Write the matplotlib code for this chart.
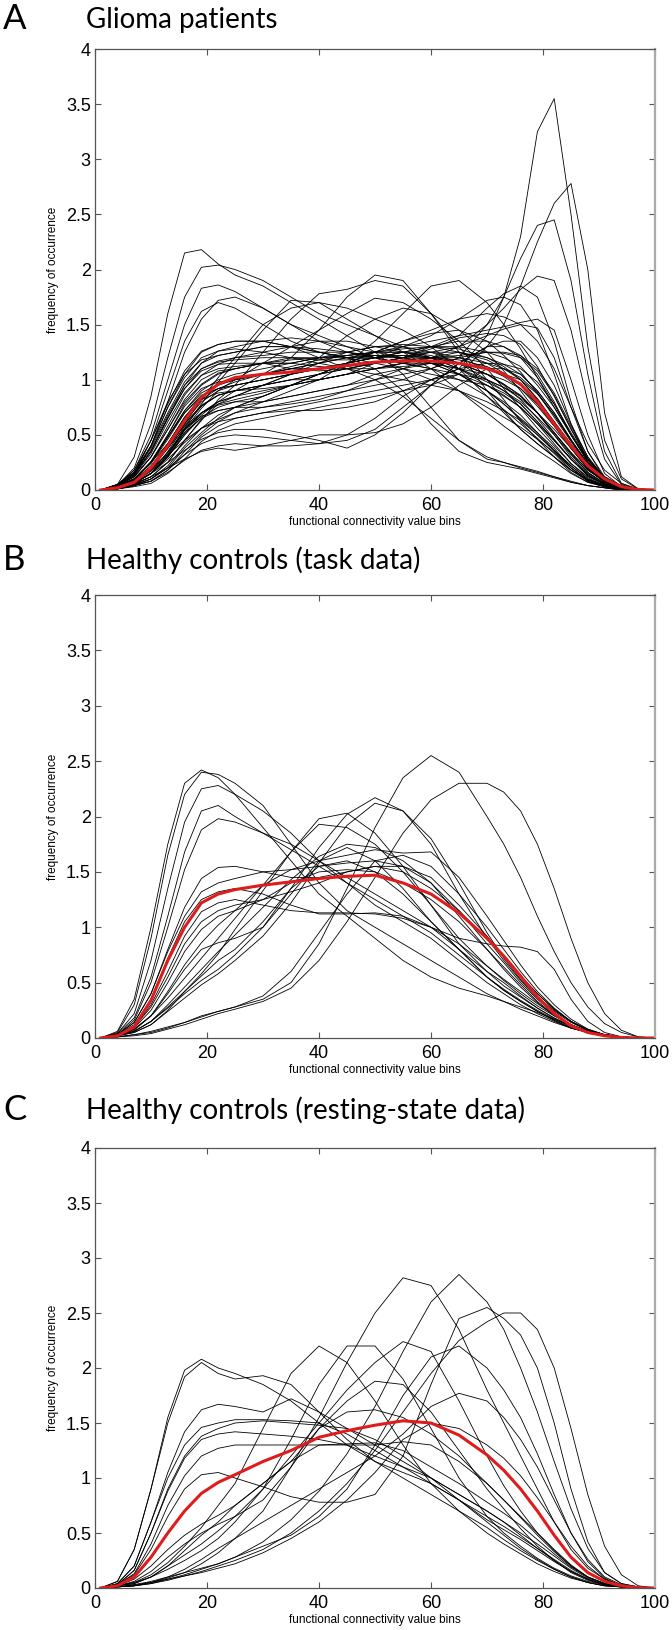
import numpy as np
import matplotlib
matplotlib.use('Agg')
import matplotlib.pyplot as plt

bins = [1, 4, 7, 10, 13, 16, 19, 22, 25,
        30, 35, 40, 45, 50, 55, 60, 65, 70,
        73, 76, 79, 82, 85, 88, 91, 94, 97, 100]

# ---------------- A: glioma patients ----------------
glioma_mean = [0, 0.02, 0.07, 0.2, 0.4, 0.63, 0.84, 0.96, 1.02,
               1.05, 1.07, 1.10, 1.13, 1.16, 1.17, 1.17, 1.15, 1.10,
               1.05, 0.96, 0.8, 0.6, 0.4, 0.22, 0.1, 0.03, 0.005, 0]
glioma_curves = [
    [0, 0.01, 0.04, 0.08, 0.18, 0.32, 0.48, 0.58, 0.65, 0.7, 0.75, 0.8, 0.85, 0.9, 0.95, 1.0, 1.1, 1.4, 1.75, 2.3, 3.25, 3.55, 2.5, 1.3, 0.45, 0.1, 0.01, 0],
    [0, 0.01, 0.03, 0.06, 0.15, 0.28, 0.44, 0.54, 0.6, 0.65, 0.7, 0.75, 0.8, 0.85, 0.9, 0.95, 1.05, 1.3, 1.5, 1.85, 2.25, 2.6, 2.78, 2.0, 0.7, 0.12, 0.01, 0],
    [0, 0.02, 0.05, 0.1, 0.2, 0.38, 0.52, 0.65, 0.75, 0.8, 0.85, 0.9, 0.95, 1.0, 1.05, 1.1, 1.2, 1.5, 1.75, 2.1, 2.4, 2.45, 1.9, 1.05, 0.35, 0.06, 0, 0],
    [0, 0.02, 0.06, 0.15, 0.35, 0.58, 0.76, 0.86, 0.9, 0.95, 1.0, 1.0, 1.05, 1.1, 1.15, 1.2, 1.3, 1.5, 1.65, 1.82, 1.94, 1.9, 1.45, 0.8, 0.28, 0.05, 0, 0],
    [0, 0.02, 0.06, 0.15, 0.3, 0.52, 0.7, 0.8, 0.85, 0.9, 0.95, 1.0, 1.05, 1.15, 1.2, 1.3, 1.4, 1.65, 1.78, 1.85, 1.75, 1.35, 0.8, 0.35, 0.1, 0.02, 0, 0],
    [0, 0.03, 0.09, 0.2, 0.42, 0.66, 0.85, 0.95, 1.0, 1.05, 1.1, 1.1, 1.15, 1.2, 1.3, 1.4, 1.55, 1.72, 1.75, 1.68, 1.45, 1.05, 0.6, 0.25, 0.07, 0.01, 0, 0],
    [0, 0.03, 0.1, 0.25, 0.5, 0.78, 0.95, 1.05, 1.1, 1.15, 1.15, 1.2, 1.2, 1.25, 1.3, 1.35, 1.4, 1.45, 1.48, 1.52, 1.55, 1.45, 1.0, 0.5, 0.15, 0.03, 0, 0],
    [0, 0.05, 0.3, 0.85, 1.6, 2.15, 2.18, 2.05, 1.95, 1.85, 1.7, 1.55, 1.4, 1.25, 1.05, 0.75, 0.45, 0.28, 0.25, 0.21, 0.17, 0.12, 0.07, 0.04, 0.02, 0, 0, 0],
    [0, 0.04, 0.2, 0.6, 1.2, 1.75, 2.02, 2.04, 2.0, 1.9, 1.75, 1.6, 1.5, 1.4, 1.3, 1.2, 1.05, 0.9, 0.78, 0.65, 0.52, 0.38, 0.2, 0.08, 0.03, 0.01, 0, 0],
    [0, 0.04, 0.18, 0.5, 1.0, 1.5, 1.83, 1.86, 1.8, 1.65, 1.5, 1.4, 1.3, 1.2, 1.1, 1.0, 0.9, 0.75, 0.66, 0.57, 0.46, 0.34, 0.2, 0.09, 0.03, 0.01, 0, 0],
    [0, 0.03, 0.14, 0.4, 0.8, 1.25, 1.55, 1.72, 1.75, 1.65, 1.5, 1.35, 1.25, 1.2, 1.15, 1.1, 1.0, 0.85, 0.73, 0.6, 0.47, 0.33, 0.18, 0.08, 0.03, 0.01, 0, 0],
    [0, 0.03, 0.15, 0.45, 0.9, 1.35, 1.62, 1.7, 1.65, 1.5, 1.35, 1.25, 1.2, 1.2, 1.2, 1.15, 1.05, 0.9, 0.78, 0.64, 0.5, 0.35, 0.2, 0.09, 0.03, 0.01, 0, 0],
    [0, 0.02, 0.06, 0.15, 0.3, 0.5, 0.68, 0.8, 0.9, 1.05, 1.2, 1.45, 1.75, 1.95, 1.9, 1.6, 1.25, 0.9, 0.72, 0.55, 0.42, 0.3, 0.18, 0.09, 0.04, 0.01, 0, 0],
    [0, 0.02, 0.05, 0.12, 0.25, 0.45, 0.63, 0.82, 0.95, 1.25, 1.55, 1.78, 1.82, 1.9, 1.85, 1.6, 1.3, 1.0, 0.82, 0.62, 0.46, 0.3, 0.16, 0.07, 0.03, 0.01, 0, 0],
    [0, 0.01, 0.04, 0.08, 0.18, 0.35, 0.5, 0.62, 0.7, 0.8, 0.9, 1.0, 1.15, 1.35, 1.6, 1.85, 1.9, 1.7, 1.5, 1.28, 1.02, 0.75, 0.5, 0.28, 0.12, 0.04, 0.01, 0],
    [0, 0.02, 0.06, 0.15, 0.32, 0.56, 0.78, 0.98, 1.15, 1.45, 1.72, 1.7, 1.55, 1.4, 1.25, 1.1, 0.9, 0.7, 0.58, 0.47, 0.36, 0.26, 0.15, 0.07, 0.03, 0.01, 0, 0],
    [0, 0.03, 0.08, 0.2, 0.38, 0.6, 0.82, 1.02, 1.2, 1.5, 1.65, 1.7, 1.65, 1.55, 1.45, 1.3, 1.1, 0.85, 0.7, 0.55, 0.42, 0.3, 0.18, 0.09, 0.04, 0.01, 0, 0],
    [0, 0.02, 0.06, 0.15, 0.3, 0.55, 0.74, 0.9, 1.0, 1.15, 1.3, 1.45, 1.6, 1.74, 1.7, 1.55, 1.35, 1.1, 0.92, 0.74, 0.56, 0.4, 0.24, 0.12, 0.05, 0.01, 0, 0],
    [0, 0.02, 0.05, 0.12, 0.25, 0.45, 0.64, 0.78, 0.85, 0.95, 1.05, 1.2, 1.4, 1.55, 1.65, 1.6, 1.45, 1.25, 1.08, 0.9, 0.7, 0.5, 0.3, 0.15, 0.06, 0.02, 0, 0],
    [0, 0.01, 0.04, 0.1, 0.22, 0.4, 0.56, 0.68, 0.75, 0.85, 0.95, 1.05, 1.15, 1.25, 1.35, 1.45, 1.55, 1.6, 1.57, 1.5, 1.35, 1.1, 0.75, 0.42, 0.18, 0.06, 0.01, 0],
    [0, 0.01, 0.04, 0.08, 0.16, 0.27, 0.36, 0.4, 0.42, 0.4, 0.4, 0.42, 0.5, 0.65, 0.85, 1.0, 1.05, 1.0, 0.93, 0.83, 0.7, 0.55, 0.38, 0.22, 0.1, 0.03, 0.01, 0],
    [0, 0.02, 0.06, 0.12, 0.2, 0.28, 0.35, 0.38, 0.36, 0.4, 0.45, 0.5, 0.5, 0.52, 0.6, 0.75, 0.95, 1.1, 1.1, 1.05, 0.9, 0.7, 0.45, 0.22, 0.08, 0.02, 0, 0],
    [0, 0.01, 0.04, 0.1, 0.2, 0.32, 0.42, 0.48, 0.5, 0.48, 0.45, 0.42, 0.45, 0.55, 0.75, 0.95, 1.15, 1.3, 1.35, 1.35, 1.2, 0.95, 0.6, 0.3, 0.1, 0.02, 0, 0],
    [0, 0.02, 0.07, 0.15, 0.25, 0.36, 0.46, 0.52, 0.55, 0.55, 0.5, 0.45, 0.38, 0.5, 0.7, 0.95, 1.15, 1.3, 1.3, 1.22, 1.05, 0.8, 0.5, 0.25, 0.09, 0.02, 0, 0],
    [0, 0.02, 0.07, 0.15, 0.28, 0.43, 0.56, 0.62, 0.65, 0.7, 0.72, 0.72, 0.75, 0.8, 0.9, 1.0, 1.1, 1.15, 1.14, 1.1, 0.98, 0.78, 0.52, 0.28, 0.1, 0.03, 0, 0],
    [0, 0.03, 0.09, 0.2, 0.32, 0.45, 0.56, 0.64, 0.7, 0.75, 0.8, 0.85, 0.9, 0.95, 1.0, 1.1, 1.2, 1.25, 1.24, 1.2, 1.08, 0.86, 0.56, 0.28, 0.1, 0.03, 0, 0],
    [0, 0.02, 0.08, 0.18, 0.34, 0.52, 0.65, 0.72, 0.75, 0.75, 0.78, 0.82, 0.9, 1.0, 1.1, 1.2, 1.25, 1.2, 1.14, 1.05, 0.9, 0.7, 0.46, 0.24, 0.09, 0.02, 0, 0],
    [0, 0.03, 0.1, 0.25, 0.42, 0.58, 0.7, 0.77, 0.8, 0.8, 0.85, 0.9, 0.95, 1.05, 1.1, 1.15, 1.15, 1.1, 1.05, 1.0, 0.87, 0.68, 0.45, 0.24, 0.09, 0.02, 0, 0],
    [0, 0.04, 0.14, 0.35, 0.65, 0.92, 1.1, 1.17, 1.2, 1.22, 1.25, 1.25, 1.25, 1.22, 1.2, 1.15, 1.1, 1.0, 0.93, 0.85, 0.7, 0.52, 0.34, 0.18, 0.08, 0.02, 0, 0],
    [0, 0.05, 0.16, 0.4, 0.7, 0.98, 1.15, 1.22, 1.25, 1.3, 1.3, 1.28, 1.25, 1.2, 1.15, 1.1, 1.05, 0.95, 0.86, 0.75, 0.6, 0.45, 0.28, 0.14, 0.05, 0.01, 0, 0],
    [0, 0.03, 0.12, 0.3, 0.55, 0.82, 1.0, 1.08, 1.1, 1.15, 1.2, 1.2, 1.22, 1.25, 1.25, 1.22, 1.15, 1.05, 0.96, 0.85, 0.7, 0.52, 0.34, 0.18, 0.08, 0.02, 0, 0],
    [0, 0.04, 0.12, 0.3, 0.58, 0.86, 1.04, 1.14, 1.2, 1.25, 1.3, 1.35, 1.35, 1.3, 1.25, 1.2, 1.1, 0.95, 0.85, 0.75, 0.6, 0.42, 0.24, 0.11, 0.04, 0.01, 0, 0],
    [0, 0.03, 0.1, 0.25, 0.48, 0.72, 0.9, 1.0, 1.05, 1.1, 1.15, 1.2, 1.25, 1.3, 1.32, 1.3, 1.25, 1.15, 1.06, 0.95, 0.78, 0.58, 0.38, 0.2, 0.08, 0.02, 0, 0],
    [0, 0.02, 0.08, 0.2, 0.4, 0.62, 0.8, 0.9, 0.95, 1.0, 1.05, 1.1, 1.15, 1.2, 1.25, 1.3, 1.35, 1.35, 1.3, 1.2, 1.02, 0.78, 0.5, 0.26, 0.1, 0.02, 0, 0],
    [0, 0.03, 0.1, 0.25, 0.48, 0.7, 0.85, 0.92, 0.95, 1.0, 1.05, 1.1, 1.15, 1.2, 1.25, 1.25, 1.2, 1.1, 1.04, 0.95, 0.8, 0.62, 0.42, 0.23, 0.09, 0.02, 0, 0],
    [0, 0.05, 0.18, 0.45, 0.78, 1.08, 1.26, 1.32, 1.35, 1.35, 1.3, 1.25, 1.2, 1.15, 1.1, 1.05, 1.0, 0.95, 0.88, 0.78, 0.62, 0.45, 0.28, 0.14, 0.05, 0.01, 0, 0],
    [0, 0.04, 0.14, 0.35, 0.65, 0.95, 1.15, 1.26, 1.3, 1.35, 1.38, 1.35, 1.3, 1.25, 1.2, 1.2, 1.15, 1.05, 0.95, 0.82, 0.65, 0.46, 0.28, 0.13, 0.05, 0.01, 0, 0],
    [0, 0.02, 0.08, 0.18, 0.38, 0.6, 0.76, 0.86, 0.9, 0.95, 1.0, 1.05, 1.1, 1.15, 1.2, 1.28, 1.38, 1.42, 1.4, 1.32, 1.12, 0.85, 0.55, 0.28, 0.1, 0.02, 0, 0],
    [0, 0.03, 0.1, 0.2, 0.42, 0.66, 0.82, 0.88, 0.9, 0.92, 0.95, 1.0, 1.05, 1.1, 1.15, 1.15, 1.1, 1.05, 1.0, 0.92, 0.78, 0.6, 0.4, 0.2, 0.08, 0.02, 0, 0],
    [0, 0.04, 0.12, 0.3, 0.55, 0.8, 0.96, 1.06, 1.1, 1.15, 1.15, 1.12, 1.1, 1.1, 1.12, 1.15, 1.15, 1.1, 1.03, 0.92, 0.76, 0.58, 0.38, 0.2, 0.08, 0.02, 0, 0],
    [0, 0.05, 0.16, 0.4, 0.75, 1.02, 1.2, 1.26, 1.28, 1.25, 1.2, 1.15, 1.1, 1.05, 1.0, 0.95, 0.9, 0.8, 0.72, 0.63, 0.5, 0.36, 0.22, 0.1, 0.04, 0.01, 0, 0],
    [0, 0.03, 0.1, 0.25, 0.48, 0.72, 0.88, 0.96, 1.0, 1.05, 1.1, 1.15, 1.2, 1.22, 1.2, 1.15, 1.05, 0.9, 0.8, 0.68, 0.52, 0.36, 0.22, 0.1, 0.04, 0.01, 0, 0],
    [0, 0.02, 0.06, 0.15, 0.32, 0.54, 0.7, 0.8, 0.85, 0.95, 1.05, 1.15, 1.25, 1.3, 1.3, 1.25, 1.15, 1.0, 0.9, 0.78, 0.62, 0.45, 0.28, 0.13, 0.05, 0.01, 0, 0],
    [0, 0.02, 0.08, 0.2, 0.38, 0.56, 0.67, 0.72, 0.75, 0.85, 0.95, 1.05, 1.15, 1.2, 1.25, 1.3, 1.3, 1.25, 1.2, 1.12, 0.95, 0.75, 0.5, 0.26, 0.1, 0.02, 0, 0],
    [0, 0.03, 0.08, 0.2, 0.38, 0.6, 0.77, 0.86, 0.9, 0.95, 1.0, 1.05, 1.1, 1.15, 1.2, 1.25, 1.3, 1.4, 1.46, 1.5, 1.47, 1.2, 0.75, 0.35, 0.12, 0.03, 0, 0],
    [0, 0.02, 0.06, 0.15, 0.3, 0.5, 0.66, 0.75, 0.8, 0.85, 0.95, 1.05, 1.15, 1.25, 1.35, 1.42, 1.45, 1.35, 1.22, 1.07, 0.88, 0.66, 0.44, 0.24, 0.1, 0.03, 0, 0],
    [0, 0.05, 0.16, 0.45, 0.8, 1.05, 1.18, 1.22, 1.25, 1.3, 1.3, 1.25, 1.2, 1.1, 0.9, 0.6, 0.35, 0.25, 0.22, 0.19, 0.15, 0.11, 0.07, 0.04, 0.02, 0, 0, 0],
    [0, 0.04, 0.14, 0.4, 0.75, 1.05, 1.25, 1.32, 1.35, 1.35, 1.3, 1.2, 1.1, 1.0, 0.85, 0.65, 0.45, 0.3, 0.25, 0.2, 0.16, 0.12, 0.08, 0.04, 0.02, 0, 0, 0],
    [0, 0.04, 0.13, 0.33, 0.62, 0.88, 1.04, 1.1, 1.12, 1.15, 1.18, 1.2, 1.22, 1.25, 1.25, 1.2, 1.1, 0.98, 0.9, 0.8, 0.66, 0.5, 0.32, 0.16, 0.06, 0.01, 0, 0],
    [0, 0.03, 0.1, 0.26, 0.5, 0.76, 0.92, 0.98, 1.0, 1.05, 1.1, 1.15, 1.2, 1.22, 1.22, 1.2, 1.18, 1.12, 1.05, 0.96, 0.8, 0.6, 0.38, 0.19, 0.07, 0.02, 0, 0],
    [0, 0.04, 0.15, 0.38, 0.68, 0.95, 1.1, 1.16, 1.18, 1.2, 1.2, 1.18, 1.18, 1.2, 1.22, 1.2, 1.15, 1.05, 0.96, 0.86, 0.7, 0.52, 0.33, 0.16, 0.06, 0.01, 0, 0],
    [0, 0.03, 0.09, 0.22, 0.42, 0.65, 0.82, 0.92, 0.98, 1.05, 1.12, 1.18, 1.22, 1.25, 1.28, 1.3, 1.28, 1.2, 1.12, 1.0, 0.82, 0.6, 0.38, 0.19, 0.07, 0.02, 0, 0],
    [0, 0.02, 0.07, 0.17, 0.34, 0.55, 0.7, 0.78, 0.82, 0.88, 0.95, 1.0, 1.05, 1.1, 1.15, 1.2, 1.2, 1.15, 1.1, 1.02, 0.88, 0.68, 0.45, 0.23, 0.08, 0.02, 0, 0],
    [0, 0.04, 0.14, 0.36, 0.66, 0.92, 1.08, 1.14, 1.15, 1.15, 1.1, 1.08, 1.1, 1.15, 1.2, 1.25, 1.25, 1.18, 1.1, 1.0, 0.83, 0.62, 0.4, 0.2, 0.07, 0.02, 0, 0],
    [0, 0.03, 0.1, 0.24, 0.46, 0.7, 0.86, 0.92, 0.95, 1.0, 1.05, 1.1, 1.12, 1.15, 1.18, 1.2, 1.22, 1.25, 1.25, 1.22, 1.1, 0.88, 0.58, 0.3, 0.11, 0.03, 0, 0],
]

# ---------------- B: healthy controls, task ----------------
task_mean = [0, 0.02, 0.1, 0.34, 0.7, 1.0, 1.22, 1.3, 1.34,
             1.38, 1.41, 1.44, 1.46, 1.47, 1.40, 1.30, 1.13, 0.90,
             0.74, 0.56, 0.37, 0.22, 0.11, 0.05, 0.02, 0.005, 0, 0]
task_curves = [
    [0, 0.06, 0.35, 1.0, 1.75, 2.3, 2.42, 2.35, 2.2, 1.9, 1.6, 1.3, 1.1, 0.9, 0.7, 0.55, 0.45, 0.38, 0.33, 0.28, 0.23, 0.17, 0.11, 0.06, 0.03, 0.01, 0, 0],
    [0, 0.05, 0.3, 0.9, 1.65, 2.2, 2.4, 2.38, 2.3, 2.1, 1.75, 1.4, 1.15, 1.0, 0.85, 0.7, 0.55, 0.4, 0.33, 0.26, 0.2, 0.14, 0.09, 0.05, 0.02, 0.01, 0, 0],
    [0, 0.04, 0.22, 0.7, 1.35, 1.95, 2.25, 2.28, 2.2, 2.05, 1.85, 1.6, 1.4, 1.2, 1.05, 0.9, 0.7, 0.5, 0.4, 0.3, 0.22, 0.15, 0.09, 0.05, 0.02, 0.01, 0, 0],
    [0, 0.04, 0.18, 0.55, 1.1, 1.68, 2.05, 2.1, 2.0, 1.85, 1.7, 1.55, 1.4, 1.25, 1.1, 0.95, 0.75, 0.55, 0.44, 0.34, 0.25, 0.17, 0.1, 0.05, 0.02, 0.01, 0, 0],
    [0, 0.03, 0.16, 0.5, 1.0, 1.52, 1.88, 1.98, 1.95, 1.85, 1.75, 1.6, 1.45, 1.3, 1.15, 1.0, 0.8, 0.6, 0.5, 0.38, 0.27, 0.18, 0.11, 0.06, 0.03, 0.01, 0, 0],
    [0, 0.01, 0.03, 0.05, 0.09, 0.14, 0.2, 0.24, 0.28, 0.35, 0.5, 0.85, 1.35, 1.9, 2.35, 2.55, 2.4, 2.0, 1.75, 1.45, 1.1, 0.78, 0.5, 0.28, 0.13, 0.05, 0.01, 0],
    [0, 0.01, 0.02, 0.04, 0.08, 0.12, 0.17, 0.22, 0.26, 0.33, 0.45, 0.7, 1.05, 1.45, 1.85, 2.15, 2.3, 2.3, 2.22, 2.05, 1.75, 1.35, 0.9, 0.5, 0.22, 0.07, 0.01, 0],
    [0, 0.02, 0.06, 0.15, 0.27, 0.4, 0.52, 0.62, 0.75, 1.0, 1.35, 1.72, 2.02, 2.17, 2.05, 1.75, 1.3, 0.9, 0.7, 0.52, 0.36, 0.24, 0.14, 0.07, 0.03, 0.01, 0, 0],
    [0, 0.02, 0.05, 0.12, 0.24, 0.36, 0.48, 0.58, 0.7, 0.92, 1.22, 1.58, 1.92, 2.12, 2.05, 1.8, 1.4, 0.95, 0.72, 0.53, 0.37, 0.25, 0.15, 0.08, 0.03, 0.01, 0, 0],
    [0, 0.02, 0.06, 0.15, 0.28, 0.42, 0.58, 0.76, 0.98, 1.33, 1.68, 1.98, 2.03, 1.85, 1.55, 1.2, 0.85, 0.6, 0.47, 0.37, 0.27, 0.18, 0.11, 0.06, 0.03, 0.01, 0, 0],
    [0, 0.02, 0.08, 0.2, 0.36, 0.54, 0.72, 0.9, 1.08, 1.38, 1.68, 1.93, 1.9, 1.75, 1.5, 1.2, 0.9, 0.65, 0.52, 0.4, 0.29, 0.2, 0.12, 0.06, 0.03, 0.01, 0, 0],
    [0, 0.02, 0.06, 0.15, 0.3, 0.46, 0.62, 0.78, 0.93, 1.18, 1.43, 1.64, 1.75, 1.72, 1.6, 1.4, 1.1, 0.8, 0.62, 0.46, 0.32, 0.2, 0.12, 0.06, 0.03, 0.01, 0, 0],
    [0, 0.02, 0.08, 0.2, 0.42, 0.66, 0.86, 1.02, 1.15, 1.38, 1.52, 1.6, 1.65, 1.7, 1.67, 1.68, 1.45, 1.1, 0.88, 0.66, 0.46, 0.3, 0.17, 0.08, 0.03, 0.01, 0, 0],
    [0, 0.03, 0.14, 0.4, 0.8, 1.18, 1.44, 1.54, 1.55, 1.5, 1.45, 1.45, 1.5, 1.55, 1.5, 1.35, 1.15, 0.9, 0.74, 0.56, 0.4, 0.26, 0.15, 0.07, 0.03, 0.01, 0, 0],
    [0, 0.03, 0.14, 0.4, 0.78, 1.1, 1.32, 1.4, 1.44, 1.5, 1.52, 1.55, 1.58, 1.6, 1.55, 1.4, 1.15, 0.85, 0.68, 0.5, 0.35, 0.22, 0.12, 0.06, 0.02, 0.01, 0, 0],
    [0, 0.03, 0.1, 0.3, 0.6, 0.92, 1.14, 1.22, 1.25, 1.2, 1.15, 1.13, 1.13, 1.12, 1.08, 1.0, 0.9, 0.85, 0.83, 0.82, 0.78, 0.62, 0.35, 0.15, 0.05, 0.01, 0, 0],
    [0, 0.03, 0.09, 0.25, 0.5, 0.78, 0.98, 1.1, 1.15, 1.25, 1.4, 1.5, 1.52, 1.5, 1.4, 1.25, 1.05, 0.8, 0.64, 0.48, 0.33, 0.21, 0.12, 0.06, 0.02, 0.01, 0, 0],
    [0, 0.02, 0.07, 0.2, 0.4, 0.62, 0.8, 0.86, 0.9, 1.0, 1.3, 1.6, 1.72, 1.6, 1.35, 1.05, 0.8, 0.55, 0.43, 0.33, 0.24, 0.16, 0.09, 0.05, 0.02, 0.01, 0, 0],
    [0, 0.02, 0.05, 0.12, 0.25, 0.42, 0.56, 0.7, 0.8, 1.05, 1.35, 1.55, 1.6, 1.5, 1.3, 1.05, 0.8, 0.55, 0.43, 0.33, 0.24, 0.16, 0.09, 0.05, 0.02, 0.01, 0, 0],
    [0, 0.01, 0.03, 0.06, 0.1, 0.14, 0.19, 0.24, 0.28, 0.38, 0.6, 0.95, 1.3, 1.6, 1.65, 1.55, 1.3, 1.0, 0.8, 0.6, 0.42, 0.27, 0.15, 0.07, 0.03, 0.01, 0, 0],
    [0, 0.03, 0.12, 0.35, 0.72, 1.05, 1.25, 1.32, 1.35, 1.3, 1.2, 1.12, 1.12, 1.13, 1.1, 1.0, 0.85, 0.65, 0.53, 0.42, 0.31, 0.21, 0.12, 0.06, 0.02, 0.01, 0, 0],
    [0, 0.02, 0.1, 0.28, 0.55, 0.85, 1.05, 1.15, 1.2, 1.25, 1.32, 1.4, 1.5, 1.55, 1.55, 1.45, 1.2, 0.92, 0.74, 0.56, 0.4, 0.26, 0.15, 0.07, 0.03, 0.01, 0, 0],
]

# ---------------- C: healthy controls, resting state ----------------
rest_mean = [0, 0.02, 0.1, 0.28, 0.5, 0.7, 0.86, 0.96, 1.03,
             1.15, 1.25, 1.37, 1.43, 1.48, 1.52, 1.50, 1.39, 1.21,
             1.07, 0.9, 0.7, 0.48, 0.28, 0.14, 0.06, 0.02, 0.003, 0]
rest_curves = [
    [0, 0.01, 0.03, 0.05, 0.09, 0.14, 0.22, 0.32, 0.45, 0.7, 1.1, 1.55, 2.05, 2.5, 2.82, 2.75, 2.35, 1.8, 1.5, 1.2, 0.9, 0.6, 0.35, 0.18, 0.08, 0.02, 0, 0],
    [0, 0.01, 0.02, 0.05, 0.08, 0.12, 0.17, 0.22, 0.28, 0.42, 0.62, 0.88, 1.22, 1.65, 2.15, 2.6, 2.85, 2.6, 2.35, 2.0, 1.6, 1.15, 0.72, 0.36, 0.14, 0.04, 0.01, 0],
    [0, 0.03, 0.12, 0.35, 0.65, 0.9, 1.03, 1.05, 1.0, 0.92, 0.83, 0.78, 0.78, 0.85, 1.2, 1.85, 2.45, 2.55, 2.45, 2.3, 2.0, 1.5, 0.9, 0.42, 0.14, 0.04, 0.01, 0],
    [0, 0.01, 0.02, 0.04, 0.07, 0.11, 0.15, 0.2, 0.25, 0.35, 0.5, 0.7, 0.95, 1.25, 1.6, 1.95, 2.25, 2.42, 2.5, 2.5, 2.35, 2.0, 1.45, 0.85, 0.38, 0.12, 0.02, 0],
    [0, 0.02, 0.04, 0.1, 0.17, 0.25, 0.34, 0.45, 0.6, 0.9, 1.35, 1.85, 2.2, 2.2, 1.9, 1.45, 1.0, 0.65, 0.5, 0.38, 0.27, 0.18, 0.11, 0.06, 0.03, 0.01, 0, 0],
    [0, 0.02, 0.05, 0.12, 0.23, 0.38, 0.55, 0.75, 0.95, 1.45, 1.95, 2.2, 2.05, 1.7, 1.3, 0.95, 0.7, 0.5, 0.4, 0.31, 0.22, 0.15, 0.09, 0.05, 0.02, 0.01, 0, 0],
    [0, 0.02, 0.04, 0.1, 0.2, 0.3, 0.4, 0.52, 0.65, 0.9, 1.2, 1.5, 1.8, 2.05, 2.24, 2.15, 1.7, 1.2, 0.93, 0.7, 0.5, 0.34, 0.2, 0.1, 0.04, 0.01, 0, 0],
    [0, 0.06, 0.35, 0.9, 1.55, 1.98, 2.08, 2.0, 1.95, 1.85, 1.7, 1.5, 1.3, 1.15, 1.05, 0.95, 0.8, 0.6, 0.48, 0.36, 0.26, 0.17, 0.1, 0.05, 0.02, 0.01, 0, 0],
    [0, 0.06, 0.35, 0.9, 1.5, 1.92, 2.05, 1.95, 1.9, 1.93, 1.85, 1.6, 1.35, 1.15, 1.0, 0.85, 0.7, 0.55, 0.44, 0.34, 0.25, 0.17, 0.1, 0.05, 0.02, 0.01, 0, 0],
    [0, 0.02, 0.05, 0.1, 0.2, 0.34, 0.48, 0.6, 0.75, 0.95, 1.15, 1.45, 1.7, 1.88, 1.85, 1.6, 1.25, 0.9, 0.72, 0.54, 0.38, 0.25, 0.14, 0.07, 0.03, 0.01, 0, 0],
    [0, 0.01, 0.02, 0.05, 0.1, 0.17, 0.26, 0.36, 0.45, 0.6, 0.75, 0.9, 1.05, 1.2, 1.4, 1.65, 1.77, 1.7, 1.55, 1.35, 1.1, 0.8, 0.5, 0.26, 0.1, 0.03, 0, 0],
    [0, 0.04, 0.2, 0.6, 1.05, 1.42, 1.62, 1.67, 1.65, 1.6, 1.72, 1.6, 1.45, 1.3, 1.15, 1.0, 0.85, 0.7, 0.6, 0.5, 0.4, 0.29, 0.18, 0.09, 0.04, 0.01, 0, 0],
    [0, 0.04, 0.2, 0.6, 1.0, 1.3, 1.46, 1.5, 1.53, 1.53, 1.52, 1.5, 1.4, 1.25, 1.1, 0.95, 0.8, 0.65, 0.56, 0.46, 0.36, 0.26, 0.16, 0.08, 0.03, 0.01, 0, 0],
    [0, 0.03, 0.16, 0.5, 0.9, 1.2, 1.38, 1.45, 1.5, 1.52, 1.5, 1.48, 1.45, 1.35, 1.2, 1.0, 0.8, 0.62, 0.53, 0.44, 0.34, 0.24, 0.15, 0.08, 0.03, 0.01, 0, 0],
    [0, 0.03, 0.16, 0.5, 0.88, 1.18, 1.35, 1.4, 1.42, 1.4, 1.38, 1.35, 1.3, 1.2, 1.1, 1.0, 0.85, 0.7, 0.6, 0.48, 0.36, 0.25, 0.15, 0.08, 0.03, 0.01, 0, 0],
    [0, 0.03, 0.13, 0.4, 0.75, 1.02, 1.2, 1.27, 1.3, 1.3, 1.3, 1.3, 1.31, 1.32, 1.25, 1.1, 0.95, 0.78, 0.68, 0.57, 0.44, 0.31, 0.19, 0.1, 0.04, 0.01, 0, 0],
    [0, 0.01, 0.03, 0.06, 0.1, 0.14, 0.18, 0.22, 0.28, 0.38, 0.48, 0.65, 0.9, 1.3, 1.75, 2.1, 2.2, 2.0, 1.8, 1.55, 1.22, 0.85, 0.5, 0.24, 0.09, 0.02, 0, 0],
    [0, 0.02, 0.06, 0.15, 0.28, 0.4, 0.5, 0.58, 0.65, 0.8, 1.1, 1.45, 1.6, 1.62, 1.55, 1.4, 1.2, 0.95, 0.8, 0.65, 0.5, 0.35, 0.21, 0.1, 0.04, 0.01, 0, 0],
    [0, 0.01, 0.02, 0.04, 0.08, 0.11, 0.14, 0.18, 0.22, 0.32, 0.45, 0.6, 0.8, 1.05, 1.35, 1.5, 1.45, 1.3, 1.18, 1.02, 0.82, 0.6, 0.38, 0.2, 0.08, 0.02, 0, 0],
    [0, 0.02, 0.08, 0.2, 0.35, 0.48, 0.58, 0.66, 0.75, 0.95, 1.15, 1.3, 1.3, 1.3, 1.33, 1.3, 1.15, 0.95, 0.8, 0.64, 0.48, 0.33, 0.2, 0.1, 0.04, 0.01, 0, 0],
]

panel_letters = ['A', 'B', 'C']
panel_titles = ['Glioma patients', 'Healthy controls (task data)',
                'Healthy controls (resting-state data)']
panel_means = [glioma_mean, task_mean, rest_mean]
panel_curves = [glioma_curves, task_curves, rest_curves]

x_ticks = [0, 20, 40, 60, 80, 100]
y_ticks = [0, 0.5, 1, 1.5, 2, 2.5, 3, 3.5, 4]
y_tick_labels = ['0', '0.5', '1', '1.5', '2', '2.5', '3', '3.5', '4']

W, H = 672, 1630
fig = plt.figure(figsize=(W / 100, H / 100), dpi=100)

# pixel boxes (top, bottom) of each axes, and title baselines
ax_rows = [(49, 490), (595, 1038), (1148, 1588)]
title_base = [28, 569, 1119]
ax_left, ax_right = 95, 655

tick_font = ['Liberation Sans', 'DejaVu Sans']
title_font = ['Lato', 'DejaVu Sans']

for i in range(3):
    top, bot = ax_rows[i]
    ax = fig.add_axes([ax_left / W, 1 - bot / H, (ax_right - ax_left) / W, (bot - top) / H])

    for c in panel_curves[i]:
        ax.plot(bins, c, color='black', lw=0.6, solid_joinstyle='round')
    ax.plot(bins, panel_means[i], color='#e01b1b', lw=2.2, solid_joinstyle='round')

    ax.set_xlim(0, 100)
    ax.set_ylim(0, 4)
    ax.set_xticks(x_ticks)
    ax.set_xticklabels([str(t) for t in x_ticks])
    ax.set_yticks(y_ticks)
    ax.set_yticklabels(y_tick_labels)
    ax.tick_params(direction='in', top=True, right=True, length=4, width=0.8,
                   color='#555555', labelsize=13)
    ax.tick_params(axis='x', pad=5)
    ax.tick_params(axis='y', pad=3)
    for lab in ax.get_xticklabels() + ax.get_yticklabels():
        lab.set_family(tick_font)
    for s in ['left', 'bottom', 'top']:
        ax.spines[s].set_color('#555555')
        ax.spines[s].set_linewidth(0.9)
    ax.spines['right'].set_color('#aaaaaa')
    ax.spines['right'].set_linewidth(1.6)

    ax.text(0.5, -32 / (bot - top), 'functional connectivity value bins',
            transform=ax.transAxes, ha='center', va='center',
            fontsize=8.5, family=tick_font)
    ax.text((53 - ax_left) / (ax_right - ax_left), 0.5, 'frequency of occurrence',
            transform=ax.transAxes, rotation=90, ha='center', va='center',
            fontsize=8.5, family=tick_font)

    fig.text(3 / W, 1 - (title_base[i] + 1) / H, panel_letters[i], fontsize=25,
             family=title_font, va='baseline', ha='left')
    fig.text(86 / W, 1 - title_base[i] / H, panel_titles[i], fontsize=20,
             family=title_font, va='baseline', ha='left')

fig.savefig('out.png', dpi=100)
